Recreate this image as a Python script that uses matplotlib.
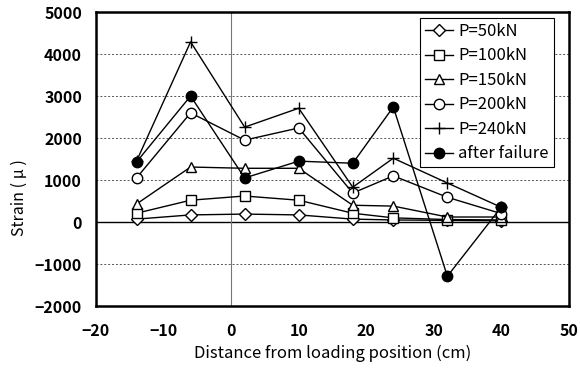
import matplotlib
matplotlib.use("Agg")
import matplotlib.pyplot as plt

plt.rcParams['font.family'] = ['Noto Sans CJK JP', 'DejaVu Sans']

# Gauge positions (cm from loading point)
distance = [-14, -6, 2, 10, 18, 24, 32, 40]

# Measured strain (micro-strain) per load step
p50 = [70, 170, 190, 170, 70, 50, 40, 30]
p100 = [210, 520, 620, 520, 210, 100, 60, 50]
p150 = [430, 1310, 1280, 1280, 400, 380, 120, 120]
p200 = [1050, 2600, 1950, 2240, 690, 1100, 590, 200]
p240 = [1450, 4290, 2260, 2710, 830, 1520, 930, 350]
after_failure = [1430, 3000, 1050, 1450, 1400, 2740, -1290, 360]

series_labels = ['P=50kN', 'P=100kN', 'P=150kN', 'P=200kN', 'P=240kN', 'after failure']
x_ticks = [-20, -10, 0, 10, 20, 30, 40, 50]
y_ticks = [-2000, -1000, 0, 1000, 2000, 3000, 4000, 5000]

fig = plt.figure(figsize=(5.8, 3.76), dpi=100)
ax = fig.add_axes([0.1655, 0.186, 0.8155, 0.782])

line_kw = dict(color='black', linewidth=1.0)
ax.plot(distance, p50, marker='D', markersize=6, markerfacecolor='white',
        markeredgecolor='black', label=series_labels[0], **line_kw)
ax.plot(distance, p100, marker='s', markersize=7, markerfacecolor='white',
        markeredgecolor='black', label=series_labels[1], **line_kw)
ax.plot(distance, p150, marker='^', markersize=7.5, markerfacecolor='white',
        markeredgecolor='black', label=series_labels[2], **line_kw)
ax.plot(distance, p200, marker='o', markersize=7.5, markerfacecolor='white',
        markeredgecolor='black', label=series_labels[3], **line_kw)
ax.plot(distance, p240, marker='+', markersize=9, markeredgewidth=1.0,
        label=series_labels[4], **line_kw)
ax.plot(distance, after_failure, marker='o', markersize=7.5, markerfacecolor='black',
        markeredgecolor='black', label=series_labels[5], **line_kw)

ax.set_xlim(-20, 50)
ax.set_ylim(-2000, 5000)
ax.set_xticks(x_ticks)
ax.set_yticks(y_ticks)
ax.set_xticklabels([str(t).replace('-', '\u2212') for t in x_ticks])
ax.set_yticklabels([str(t).replace('-', '\u2212') for t in y_ticks])
ax.tick_params(axis='both', length=0, labelsize=11.5)
ax.tick_params(axis='x', pad=12)
ax.tick_params(axis='y', pad=10)
for lab in ax.get_xticklabels() + ax.get_yticklabels():
    lab.set_fontweight('bold')

for t in y_ticks:
    if t not in (0, -2000, 5000):
        ax.axhline(t, color='#555555', linestyle=(0, (2, 2)), linewidth=0.7, zorder=0)
ax.axhline(0, color='black', linewidth=1.0, zorder=0)
ax.axvline(0, color='#777777', linewidth=0.8, zorder=0)

for s in ax.spines.values():
    s.set_linewidth(1.8)
    s.set_color('black')

ax.set_xlabel('Distance from loading position (cm)', fontsize=12, labelpad=4)
ax.set_ylabel('Strain ( μ )', fontsize=11.5)
ax.yaxis.set_label_coords(-0.145, 0.37)

leg = ax.legend(loc='upper right', bbox_to_anchor=(0.968, 0.98), fontsize=12,
                handlelength=1.7, handletextpad=0.3, labelspacing=0.45,
                borderpad=0.3, borderaxespad=0, fancybox=False, framealpha=1,
                edgecolor='black')
leg.get_frame().set_linewidth(0.8)

fig.savefig('out.png', dpi=100)
